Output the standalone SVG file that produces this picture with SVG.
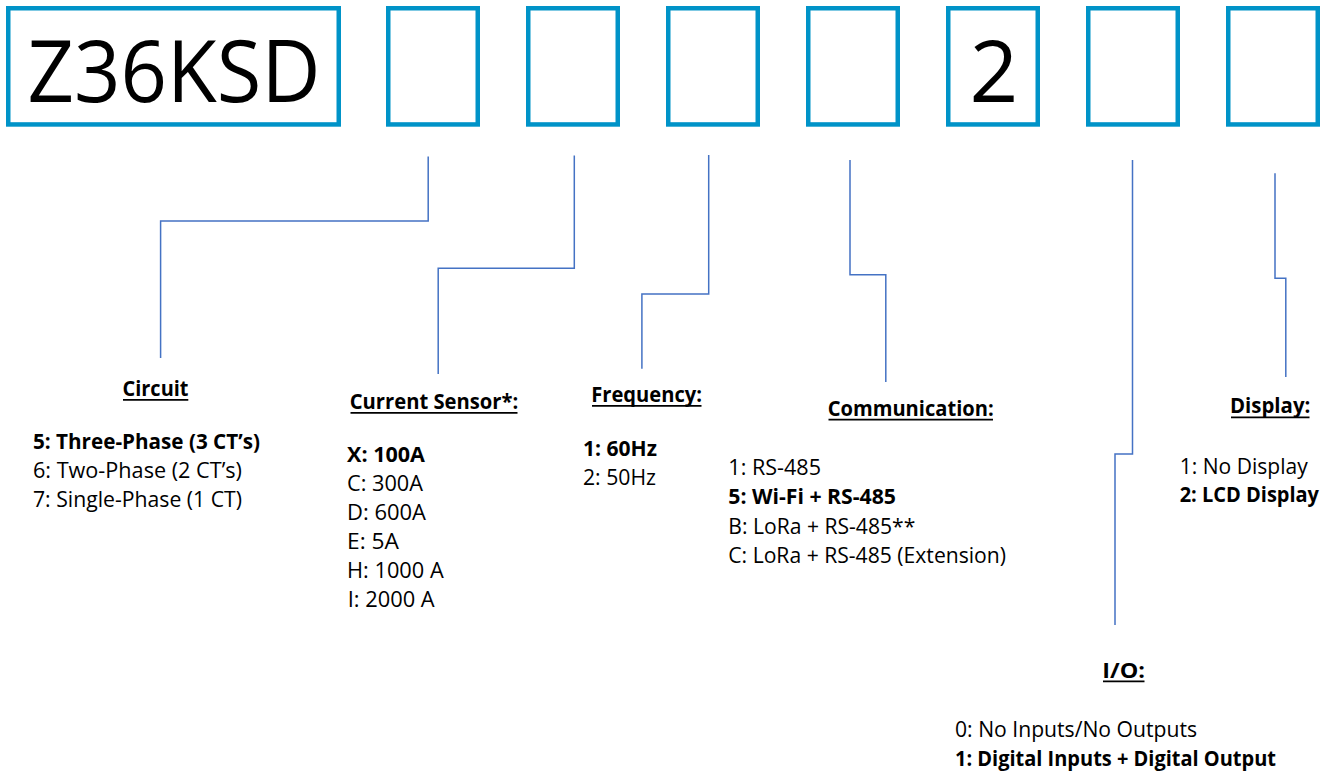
<svg xmlns="http://www.w3.org/2000/svg" width="1330" height="772" viewBox="0 0 1330 772">
<style>
.box{fill:#fff;stroke:#0093C8;stroke-width:4.5}
.big{font-family:"Open Sans","Liberation Sans",sans-serif;font-size:85.4px;fill:#000}
.t{font-family:"Open Sans","Liberation Sans",sans-serif;font-size:21.5px;fill:#000}
.b{font-weight:bold}
.ul{stroke:#000;stroke-width:1.8}
.conn{fill:none;stroke:#4472C4;stroke-width:1.5}
</style>
<rect width="1330" height="772" fill="#fff"/>
<g id="box-model">
<rect class="box" x="8.25" y="8.25" width="330.5" height="116.2"/>
<text class="big" x="27.5" y="101.7" textLength="293" lengthAdjust="spacingAndGlyphs">Z36KSD</text>
</g>
<g id="box-circuit"><rect class="box" x="388.25" y="8.25" width="89.5" height="116.2"/></g>
<g id="box-sensor"><rect class="box" x="528.25" y="8.25" width="89.5" height="116.2"/></g>
<g id="box-frequency"><rect class="box" x="668.25" y="8.25" width="89.5" height="116.2"/></g>
<g id="box-communication"><rect class="box" x="808.25" y="8.25" width="89.5" height="116.2"/></g>
<g id="box-fixed">
<rect class="box" x="948.25" y="8.25" width="89.5" height="116.2"/>
<text class="big" x="994" y="101.7" text-anchor="middle">2</text>
</g>
<g id="box-io"><rect class="box" x="1088.25" y="8.25" width="89.5" height="116.2"/></g>
<g id="box-display"><rect class="box" x="1228.25" y="8.25" width="89.5" height="116.2"/></g>

<g id="connectors">
<path class="conn" d="M428.2,156.5 V221 H160.6 V358"/>
<path class="conn" d="M574.3,155.5 V268.3 H438.2 V374"/>
<path class="conn" d="M708.7,155 V294 H641.9 V368.7"/>
<path class="conn" d="M850,160 V274.7 H885.8 V382"/>
<path class="conn" d="M1132.5,160 V454 H1115 V625"/>
<path class="conn" d="M1275,173.3 V278.3 H1285.8 V377"/>
</g>

<g id="label-circuit">
<text class="t b" x="122.5" y="396" textLength="66" lengthAdjust="spacingAndGlyphs">Circuit</text>
<line class="ul" x1="123" y1="399.8" x2="188.3" y2="399.8"/>
<text class="t b" x="33" y="449" textLength="227" lengthAdjust="spacingAndGlyphs">5: Three-Phase (3 CT’s)</text>
<text class="t" x="33" y="478" textLength="209" lengthAdjust="spacingAndGlyphs">6: Two-Phase (2 CT’s)</text>
<text class="t" x="33" y="507" textLength="209" lengthAdjust="spacingAndGlyphs">7: Single-Phase (1 CT)</text>
</g>

<g id="label-sensor">
<text class="t b" x="349.7" y="409.3" textLength="168.6" lengthAdjust="spacingAndGlyphs">Current Sensor*:</text>
<line class="ul" x1="350.5" y1="412.8" x2="517.5" y2="412.8"/>
<text class="t b" x="347" y="462" textLength="78" lengthAdjust="spacingAndGlyphs">X: 100A</text>
<text class="t" x="347" y="491" textLength="76" lengthAdjust="spacingAndGlyphs">C: 300A</text>
<text class="t" x="347" y="520" textLength="79" lengthAdjust="spacingAndGlyphs">D: 600A</text>
<text class="t" x="347" y="549" textLength="52" lengthAdjust="spacingAndGlyphs">E: 5A</text>
<text class="t" x="347" y="578" textLength="96.7" lengthAdjust="spacingAndGlyphs">H: 1000 A</text>
<text class="t" x="347.7" y="607" textLength="87" lengthAdjust="spacingAndGlyphs">I: 2000 A</text>
</g>

<g id="label-frequency">
<text class="t b" x="591.3" y="402.3" textLength="110.7" lengthAdjust="spacingAndGlyphs">Frequency:</text>
<line class="ul" x1="592" y1="405.8" x2="701.5" y2="405.8"/>
<text class="t b" x="583" y="456" textLength="74" lengthAdjust="spacingAndGlyphs">1: 60Hz</text>
<text class="t" x="583" y="485" textLength="73" lengthAdjust="spacingAndGlyphs">2: 50Hz</text>
</g>

<g id="label-communication">
<text class="t b" x="827.7" y="416" textLength="166" lengthAdjust="spacingAndGlyphs">Communication:</text>
<line class="ul" x1="828.5" y1="419.6" x2="993" y2="419.6"/>
<text class="t" x="728.3" y="475" textLength="92.7" lengthAdjust="spacingAndGlyphs">1: RS-485</text>
<text class="t b" x="728.3" y="504.3" textLength="167.7" lengthAdjust="spacingAndGlyphs">5: Wi-Fi + RS-485</text>
<text class="t" x="728.3" y="533.7" textLength="187" lengthAdjust="spacingAndGlyphs">B: LoRa + RS-485**</text>
<text class="t" x="728.3" y="562.7" textLength="277.7" lengthAdjust="spacingAndGlyphs">C: LoRa + RS-485 (Extension)</text>
</g>

<g id="label-display">
<text class="t b" x="1230" y="413.3" textLength="80.3" lengthAdjust="spacingAndGlyphs">Display:</text>
<line class="ul" x1="1231" y1="417.3" x2="1309.5" y2="417.3"/>
<text class="t" x="1179.7" y="474" textLength="128" lengthAdjust="spacingAndGlyphs">1: No Display</text>
<text class="t b" x="1179.7" y="501.7" textLength="139.3" lengthAdjust="spacingAndGlyphs">2: LCD Display</text>
</g>

<g id="label-io">
<text class="t b" x="1102.3" y="677.7" textLength="42.7" lengthAdjust="spacingAndGlyphs">I/O:</text>
<line class="ul" x1="1103" y1="681.4" x2="1144.5" y2="681.4"/>
<text class="t" x="955" y="737.3" textLength="242" lengthAdjust="spacingAndGlyphs">0: No Inputs/No Outputs</text>
<text class="t b" x="955" y="766" textLength="321" lengthAdjust="spacingAndGlyphs">1: Digital Inputs + Digital Output</text>
</g>
</svg>
